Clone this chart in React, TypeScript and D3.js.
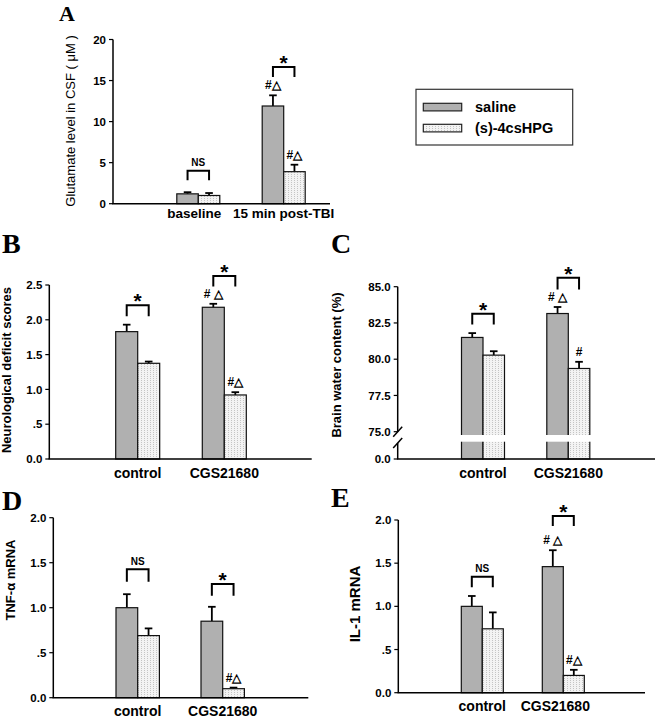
import React from 'react';
import * as d3 from 'd3';

const seriesNames = ['saline', '(s)-4csHPG'];

// Panel A
const catsA = ['baseline', '15 min post-TBI'];
const salineA = [1.2, 11.9];
const salineErrA = [0.2, 1.3];
const hpgA = [1.0, 3.9];
const hpgErrA = [0.3, 0.85];
const ticksA = [0, 5, 10, 15, 20];
const tickLabelsA = ['0', '5', '10', '15', '20'];

const catsBE = ['control', 'CGS21680'];
// Panel B
const salineB = [1.83, 2.18];
const salineErrB = [0.1, 0.05];
const hpgB = [1.375, 0.92];
const hpgErrB = [0.025, 0.04];
const ticksB = [0, 0.5, 1, 1.5, 2, 2.5];
const tickLabelsB = ['0.0', '.5', '1.0', '1.5', '2.0', '2.5'];
// Panel C
const salineC = [81.5, 83.15];
const salineErrC = [0.3, 0.45];
const hpgC = [80.28, 79.36];
const hpgErrC = [0.27, 0.46];
const ticksC = [0, 75, 77.5, 80, 82.5, 85];
const tickLabelsC = ['0.0', '75.0', '77.5', '80.0', '82.5', '85.0'];
// Panel D
const salineD = [1.0, 0.85];
const salineErrD = [0.15, 0.16];
const hpgD = [0.69, 0.1];
const hpgErrD = [0.08, 0.012];
const ticksD = [0, 0.5, 1, 1.5, 2];
const tickLabelsD = ['0.0', '.5', '1.0', '1.5', '2.0'];
// Panel E
const salineE = [1.0, 1.46];
const salineErrE = [0.12, 0.19];
const hpgE = [0.74, 0.2];
const hpgErrE = [0.19, 0.065];
const ticksE = [0, 0.5, 1, 1.5, 2];
const tickLabelsE = ['0.0', '.5', '1.0', '1.5', '2.0'];

const SANS = 'Liberation Sans, Arial, Helvetica, sans-serif';
const SERIF = 'Liberation Serif, Times New Roman, serif';
const SALINE_FILL = '#b0b0b0';

type Bracket = { cat: number; top: number; leg: number; text: string };
type Mark = { cat: number; series: number; text: string };

type PanelCfg = {
  letter: string; letterX: number; letterY: number; letterSize: number;
  axisX: number; axisEnd: number;
  yDomain: number[]; yRange: number[];
  ticks: number[]; tickLabels: string[];
  cats: string[]; catCenters: number[]; barW: number;
  saline: number[]; salineErr: number[]; hpg: number[]; hpgErr: number[];
  catLabelY: number; catLabelSize: number; catLabelShift: number[];
  yLabel: string; yLabelX: number; yLabelY: number; yLabelSize: number; yLabelWeight: string;
  brackets: Bracket[]; marks: Mark[];
  broken?: { bandTop: number; bandBottom: number; slashes: number[] };
};

const panels: PanelCfg[] = [
  {
    letter: 'A', letterX: 59, letterY: 21, letterSize: 22,
    axisX: 113, axisEnd: 330,
    yDomain: [0, 20], yRange: [203.7, 39.5],
    ticks: ticksA, tickLabels: tickLabelsA,
    cats: catsA, catCenters: [198.3, 283.7], barW: 21.5,
    saline: salineA, salineErr: salineErrA, hpg: hpgA, hpgErr: hpgErrA,
    catLabelY: 218, catLabelSize: 13.5, catLabelShift: [-4, 0],
    yLabel: 'Glutamate level in CSF ( μM )', yLabelX: 75, yLabelY: 121, yLabelSize: 13, yLabelWeight: 'normal',
    brackets: [
      { cat: 0, top: 4.0, leg: 9.5, text: 'NS' },
      { cat: 1, top: 16.65, leg: 10, text: '*' },
    ],
    marks: [
      { cat: 1, series: 0, text: '#△' },
      { cat: 1, series: 1, text: '#△' },
    ],
  },
  {
    letter: 'B', letterX: 2, letterY: 253, letterSize: 28,
    axisX: 49.3, axisEnd: 311.7,
    yDomain: [0, 2.5], yRange: [459, 285],
    ticks: ticksB, tickLabels: tickLabelsB,
    cats: catsBE, catCenters: [137.7, 224.3], barW: 22,
    saline: salineB, salineErr: salineErrB, hpg: hpgB, hpgErr: hpgErrB,
    catLabelY: 478, catLabelSize: 14, catLabelShift: [0, 0],
    yLabel: 'Neurological deficit scores', yLabelX: 11, yLabelY: 370, yLabelSize: 13, yLabelWeight: 'bold',
    brackets: [
      { cat: 0, top: 2.21, leg: 11, text: '*' },
      { cat: 1, top: 2.63, leg: 10.6, text: '*' },
    ],
    marks: [
      { cat: 1, series: 0, text: '# △' },
      { cat: 1, series: 1, text: '#△' },
    ],
  },
  {
    letter: 'C', letterX: 331, letterY: 253, letterSize: 28,
    axisX: 397.7, axisEnd: 655,
    yDomain: [0, 75, 85], yRange: [459, 431.7, 286.7],
    ticks: ticksC, tickLabels: tickLabelsC,
    cats: catsBE, catCenters: [483, 568.3], barW: 21.5,
    saline: salineC, salineErr: salineErrC, hpg: hpgC, hpgErr: hpgErrC,
    catLabelY: 478, catLabelSize: 14, catLabelShift: [0, 0],
    yLabel: 'Brain water content (%)', yLabelX: 341, yLabelY: 365, yLabelSize: 13, yLabelWeight: 'bold',
    brackets: [
      { cat: 0, top: 83.13, leg: 10.7, text: '*' },
      { cat: 1, top: 85.61, leg: 11.7, text: '*' },
    ],
    marks: [
      { cat: 1, series: 0, text: '# △' },
      { cat: 1, series: 1, text: '#' },
    ],
    broken: { bandTop: 435, bandBottom: 441.7, slashes: [431.7, 443] },
  },
  {
    letter: 'D', letterX: 2, letterY: 510, letterSize: 28,
    axisX: 53.3, axisEnd: 308.3,
    yDomain: [0, 2], yRange: [697.7, 517.7],
    ticks: ticksD, tickLabels: tickLabelsD,
    cats: catsBE, catCenters: [137.7, 222.7], barW: 21.7,
    saline: salineD, salineErr: salineErrD, hpg: hpgD, hpgErr: hpgErrD,
    catLabelY: 716, catLabelSize: 14, catLabelShift: [0, 0],
    yLabel: 'TNF-α  mRNA', yLabelX: 15, yLabelY: 580, yLabelSize: 13, yLabelWeight: 'bold',
    brackets: [
      { cat: 0, top: 1.427, leg: 12.4, text: 'NS' },
      { cat: 1, top: 1.263, leg: 11.7, text: '*' },
    ],
    marks: [
      { cat: 1, series: 1, text: '#△' },
    ],
  },
  {
    letter: 'E', letterX: 331, letterY: 507, letterSize: 28,
    axisX: 398.3, axisEnd: 645,
    yDomain: [0, 2], yRange: [692.7, 520],
    ticks: ticksE, tickLabels: tickLabelsE,
    cats: catsBE, catCenters: [482.3, 563.3], barW: 21,
    saline: salineE, salineErr: salineErrE, hpg: hpgE, hpgErr: hpgErrE,
    catLabelY: 711, catLabelSize: 14, catLabelShift: [0, -8],
    yLabel: 'IL-1 mRNA', yLabelX: 360, yLabelY: 604, yLabelSize: 15, yLabelWeight: 'bold',
    brackets: [
      { cat: 0, top: 1.343, leg: 10.6, text: 'NS' },
      { cat: 1, top: 2.046, leg: 10, text: '*' },
    ],
    marks: [
      { cat: 1, series: 0, text: '# △' },
      { cat: 1, series: 1, text: '#△' },
    ],
  },
];

function Panel({ p }: { p: PanelCfg }) {
  const y = d3.scaleLinear().domain(p.yDomain).range(p.yRange);
  const x = d3.scalePoint<string>().domain(p.cats).range(p.catCenters as [number, number]);
  const y0 = y(0);
  const yTop = p.yRange[p.yRange.length - 1];
  const series = [
    { vals: p.saline, errs: p.salineErr, fill: SALINE_FILL },
    { vals: p.hpg, errs: p.hpgErr, fill: 'url(#dots)' },
  ];
  const barX = (ci: number, si: number) => (x(p.cats[ci]) as number) + (si === 0 ? -p.barW : 0);
  const barC = (ci: number, si: number) => barX(ci, si) + p.barW / 2;

  return (
    <g>
      <text x={p.letterX} y={p.letterY} fontFamily={SERIF} fontWeight="bold" fontSize={p.letterSize}>{p.letter}</text>
      {series.map((s, si) =>
        s.vals.map((v, ci) => (
          <g key={`b${si}-${ci}`}>
            <line x1={barC(ci, si)} x2={barC(ci, si)} y1={y(v)} y2={y(v + s.errs[ci])} stroke="#000" strokeWidth={1.8} />
            <line x1={barC(ci, si) - 3.8} x2={barC(ci, si) + 3.8} y1={y(v + s.errs[ci])} y2={y(v + s.errs[ci])} stroke="#000" strokeWidth={1.8} />
            <rect x={barX(ci, si)} y={y(v)} width={p.barW} height={y0 - y(v)} fill={s.fill} stroke="#111" strokeWidth={1.2} />
          </g>
        ))
      )}
      {p.broken && (
        <rect x={p.axisX + 1} y={p.broken.bandTop} width={p.axisEnd - p.axisX} height={p.broken.bandBottom - p.broken.bandTop} fill="#fff" />
      )}
      {p.broken ? (
        <g stroke="#000" strokeWidth={1.5}>
          <line x1={p.axisX} x2={p.axisX} y1={yTop} y2={p.broken.slashes[0]} />
          <line x1={p.axisX} x2={p.axisX} y1={p.broken.slashes[1]} y2={y0} />
          {p.broken.slashes.map((sy, i) => (
            <line key={i} x1={p.axisX - 4.5} x2={p.axisX + 4.5} y1={sy + 5} y2={sy - 5} />
          ))}
        </g>
      ) : (
        <line x1={p.axisX} x2={p.axisX} y1={yTop} y2={y0} stroke="#000" strokeWidth={1.5} />
      )}
      <line x1={p.axisX - 0.75} x2={p.axisEnd} y1={y0} y2={y0} stroke="#000" strokeWidth={1.5} />
      {p.ticks.map((t, i) => (
        <g key={`t${i}`}>
          <line x1={p.axisX - 4} x2={p.axisX} y1={y(t)} y2={y(t)} stroke="#000" strokeWidth={1.2} />
          <text x={p.axisX - 7} y={y(t)} dy="0.36em" textAnchor="end" fontFamily={SANS} fontWeight="bold" fontSize={11.5}>{p.tickLabels[i]}</text>
        </g>
      ))}
      {p.cats.map((c, i) => (
        <text key={c} x={(x(c) as number) + p.catLabelShift[i]} y={p.catLabelY} textAnchor="middle" fontFamily={SANS} fontWeight="bold" fontSize={p.catLabelSize}>{c}</text>
      ))}
      <text transform={`translate(${p.yLabelX},${p.yLabelY}) rotate(-90)`} textAnchor="middle" fontFamily={SANS} fontWeight={p.yLabelWeight} fontSize={p.yLabelSize}>{p.yLabel}</text>
      {p.brackets.map((b, i) => {
        const xa = barC(b.cat, 0);
        const xb = barC(b.cat, 1);
        const yt = y(b.top);
        return (
          <g key={`k${i}`}>
            <path d={`M${xa},${yt + b.leg}V${yt}H${xb}V${yt + b.leg}`} fill="none" stroke="#000" strokeWidth={2} />
            {b.text === '*' ? (
              <text x={(xa + xb) / 2} y={yt + 3} textAnchor="middle" fontFamily={SANS} fontWeight="bold" fontSize={21}>*</text>
            ) : (
              <text x={(xa + xb) / 2} y={yt - 4.5} textAnchor="middle" fontFamily={SANS} fontWeight="bold" fontSize={10}>{b.text}</text>
            )}
          </g>
        );
      })}
      {p.marks.map((m, i) => {
        const s = series[m.series];
        return (
          <text key={`m${i}`} x={barC(m.cat, m.series)} y={y(s.vals[m.cat] + s.errs[m.cat]) - 6} textAnchor="middle" fontFamily={SANS} fontWeight="bold" fontSize={12}>{m.text}</text>
        );
      })}
    </g>
  );
}

export default function App() {
  return (
    <svg width={655} height={720} style={{ display: 'block', position: 'absolute', left: 0, top: 0, background: '#fff' }}>
      <defs>
        <pattern id="dots" patternUnits="userSpaceOnUse" width={3} height={2}>
          <rect width={3} height={2} fill="#f3f3f3" />
          <rect width={1} height={1} fill="#c4c4c4" />
        </pattern>
      </defs>
      <rect width={655} height={720} fill="#fff" />
      {panels.map((p) => <Panel key={p.letter} p={p} />)}
      <g>
        <rect x={416} y={89.3} width={156.7} height={55.7} fill="#fff" stroke="#333" strokeWidth={1.2} />
        {seriesNames.map((n, i) => (
          <g key={n}>
            <rect x={423.3} y={103.3 + i * 21} width={38.4} height={7.6} fill={i === 0 ? SALINE_FILL : 'url(#dots)'} stroke="#222" strokeWidth={1.2} />
            <text x={475} y={112.3 + i * 20.3} fontFamily={SANS} fontWeight="bold" fontSize={14.5}>{n}</text>
          </g>
        ))}
      </g>
    </svg>
  );
}
